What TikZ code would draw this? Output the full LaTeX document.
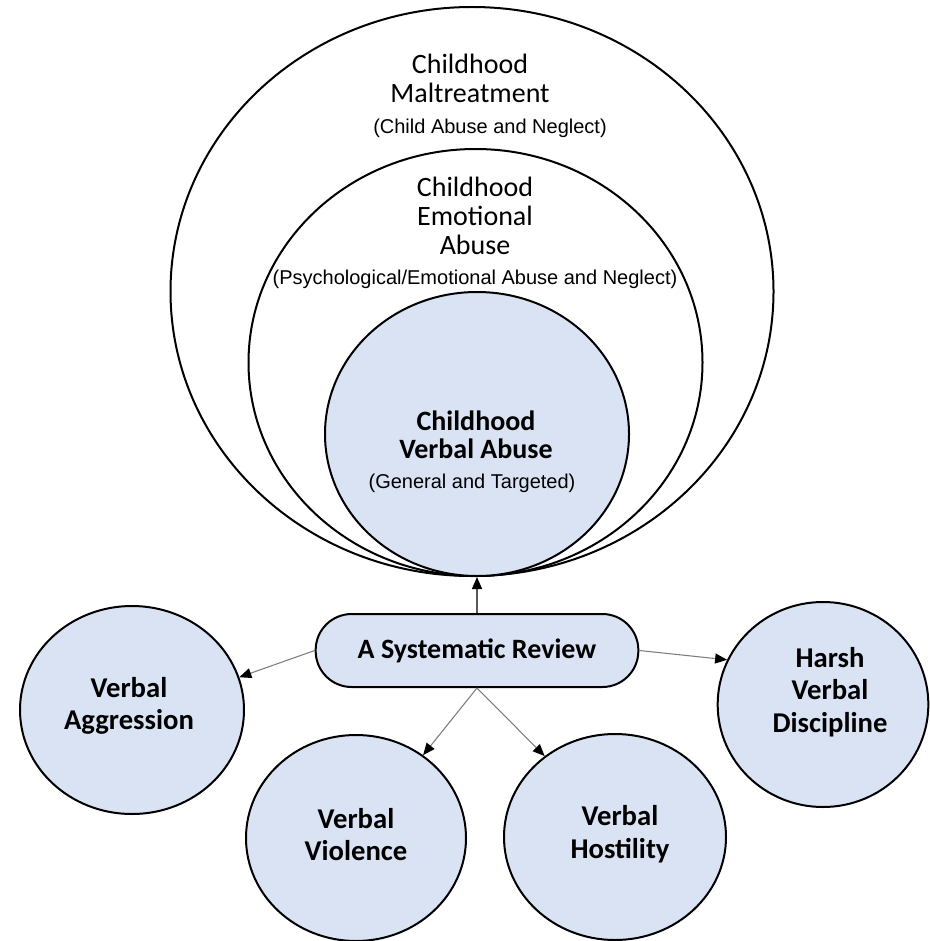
\documentclass[tikz,border=0pt]{standalone}
\usepackage{fontspec}
\setmainfont{Carlito}
\newfontfamily\arialfont{Liberation Sans}
\usetikzlibrary{shapes.geometric, arrows.meta}
\definecolor{paleblue}{RGB}{218,227,243}
\definecolor{linkgray}{RGB}{125,125,125}

\begin{document}
\begin{tikzpicture}[x=0.75pt, y=-0.75pt,
  ring/.style={draw=black, line width=1.5pt, ellipse, inner sep=0pt},
  bubble/.style={ring, fill=paleblue},
  title/.style={font=\fontsize{21}{21.75}\selectfont, align=center, inner sep=0pt},
  boldtitle/.style={title, font=\fontsize{21}{21}\selectfont\bfseries},
  note/.style={font=\arialfont\fontsize{15}{16}\selectfont, inner sep=0pt},
  leaf/.style={font=\fontsize{21.5}{24.5}\selectfont\bfseries, align=center, inner sep=0pt},
  link/.style={draw=linkgray, line width=0.8pt,
    -{Triangle[length=9pt, width=7.5pt, color=black]}}
]
\useasboundingbox (0,0) rectangle (930,941);

% nested rings: maltreatment > emotional abuse > verbal abuse
\node[ring, minimum width=452.25pt, minimum height=426.75pt] (maltreat) at (472,291.5) {};
\node[ring, minimum width=340.5pt, minimum height=320.25pt] (emotional) at (475.5,362.5) {};
\node[bubble, minimum width=228pt, minimum height=213pt] (verbal) at (477,434) {};

\node[title] (maltreatT) at (470,78) {Childhood\\Maltreatment};
\node[note] (maltreatN) at (490,128) {(Child Abuse and Neglect)};
\node[title] (emotionalT) at (475,216) {Childhood\\Emotional\\Abuse};
\node[note] (emotionalN) at (475,279) {(Psychological/Emotional Abuse and Neglect)};
\node[boldtitle] (verbalT) at (476,435) {Childhood\\Verbal Abuse};
\node[note] (verbalN) at (472,483) {(General and Targeted)};

% the review and the related constructs
\node[draw=black, line width=1.5pt, fill=paleblue, rounded corners=27pt,
      minimum width=242pt, minimum height=54.75pt, inner sep=0pt,
      font=\fontsize{21}{21}\selectfont\bfseries] (review) at (477,650.5) {A Systematic Review};

\node[bubble, minimum width=168pt, minimum height=156pt] (aggr) at (132,710) {};
\node[bubble, minimum width=165pt, minimum height=154.5pt] (viol) at (356,838) {};
\node[bubble, minimum width=166.5pt, minimum height=154.5pt] (host) at (615,837) {};
\node[bubble, minimum width=158pt, minimum height=153.75pt] (harsh) at (823,704.5) {};

\node[leaf] (aggrT) at (129,706) {Verbal\\Aggression};
\node[leaf] (violT) at (356,834.5) {Verbal\\Violence};
\node[leaf] (hostT) at (620,834.5) {Verbal\\Hostility};
\node[leaf] (harshT) at (830,692) {Harsh\\Verbal\\Discipline};

% connectors
\draw[link, draw=black!65, line width=1pt] (review.north) -- (verbal.south);
\draw[link] (review.west) -- (aggr.17);
\draw[link] (review.east) -- (harsh.155);
\draw[link] (review.south) -- (viol.51);
\draw[link] (review.south) -- (host.131);
\end{tikzpicture}
\end{document}
